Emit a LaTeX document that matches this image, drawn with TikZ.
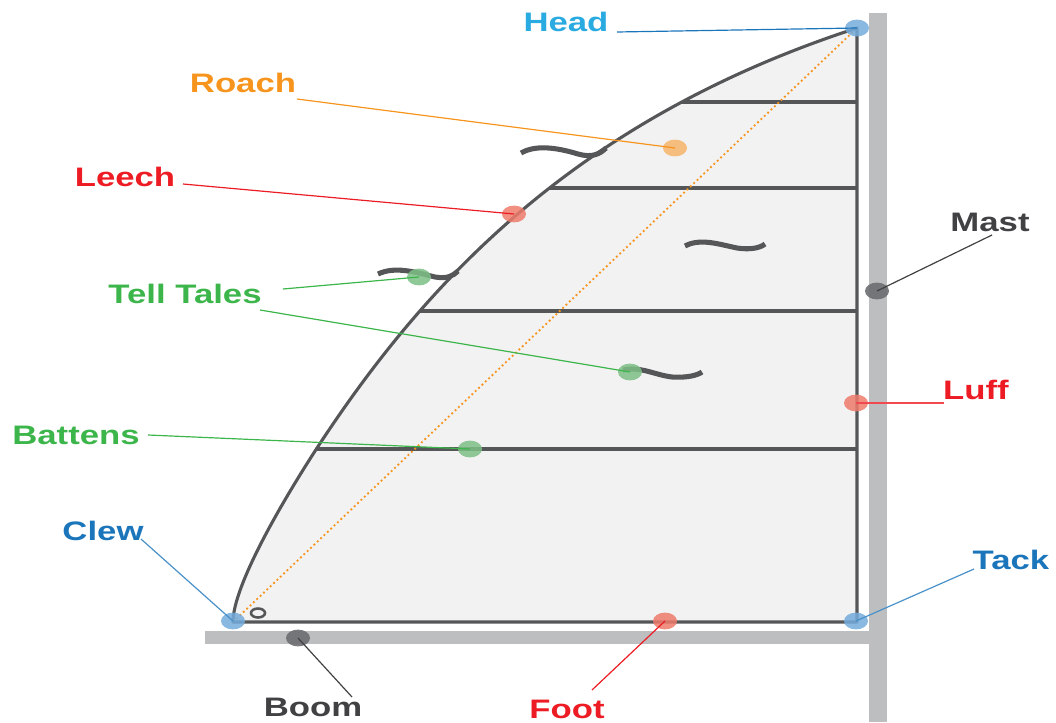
\documentclass[tikz,border=0pt]{standalone}
\usepackage{fontspec}
\usepackage{graphicx}
\setmainfont{Liberation Sans}
\usetikzlibrary{shapes.geometric}

\definecolor{spar}{HTML}{BCBEC0}
\definecolor{sailfill}{HTML}{F2F2F2}
\definecolor{sailline}{HTML}{555658}
\definecolor{cblue}{HTML}{1B75BB}
\definecolor{lblue}{HTML}{29AAE1}
\definecolor{cred}{HTML}{ED1C24}
\definecolor{corange}{HTML}{F7941D}
\definecolor{cgreen}{HTML}{3CB54A}
\definecolor{cdark}{HTML}{414042}
\definecolor{dblue}{HTML}{74ABDC}
\definecolor{dorange}{HTML}{F6B46A}
\definecolor{dred}{HTML}{EE7B6B}
\definecolor{dgreen}{HTML}{7DBF86}
\definecolor{dgray}{HTML}{6D6E71}

\tikzset{
  dot/.style={ellipse, draw=none, fill=#1, inner sep=0pt,
    minimum width=0.6cm, minimum height=0.42cm},
  lbl/.style={anchor=base, text=#1, font=\fontsize{19}{19}\selectfont\bfseries},
  lead/.style={draw=#1, line width=0.85pt},
  sailedge/.style={draw=sailline, line width=2.2pt},
  batten/.style={draw=sailline, line width=2.2pt},
  telltale/.style={draw=sailline, line width=3.6pt},
}
\newcommand{\wide}[1]{\scalebox{1.3}[1]{#1}}
% the leech, from clew up to head
\newcommand{\leechcurve}{(233,622) .. controls (233,585) and (284.5,498) .. (317,448)
  .. controls (428,278) and (580,118) .. (857,28)}

\begin{document}
\begin{tikzpicture}[x=0.025cm, y=-0.025cm]
\useasboundingbox (0,0) rectangle (1056,722);

% mast and boom
\fill[spar] (869,13) rectangle (887,722);
\fill[spar] (205,631) rectangle (869,644);

% corners of the sail
\coordinate (clew) at (233,622);
\coordinate (head) at (857,28);
\coordinate (tack) at (857,622);

% sail cloth
\fill[sailfill] \leechcurve -- (tack) -- cycle;

% battens, clipped to the sail
\begin{scope}
  \clip \leechcurve -- (tack) -- cycle;
  \foreach \yy in {102,188,311,449} {
    \draw[batten] (200,\yy) -- (857,\yy);
  }
\end{scope}

% chord from clew to head
\draw[corange, line width=1.3pt, dotted] (clew) -- (head);

% sail outline
\draw[sailedge, line join=round] \leechcurve -- (tack) -- cycle;

% clew ring
\draw[sailline, line width=1.8pt] (258,613) ellipse (7 and 4.5);

% tell tales
\draw[telltale] (521,153) .. controls (535,145) and (555,147) .. (578,154)
  .. controls (592,158) and (600,154) .. (606,148);
\draw[telltale] (685,246) .. controls (700,238) and (718,244) .. (737,248)
  .. controls (750,250) and (760,248) .. (765,244);
\draw[telltale] (378,274) .. controls (395,266) and (415,272) .. (435,277)
  .. controls (447,279) and (453,276) .. (458,271);
\draw[telltale] (623,370) .. controls (640,366) and (655,375) .. (672,377)
  .. controls (688,378) and (698,375) .. (702,372);

% markers
\node[dot=dblue, opacity=0.85] (mhead) at (857,28) {};
\node[dot=dorange, opacity=0.85] (mroach) at (675,148) {};
\node[dot=dred, opacity=0.85] (mleech) at (514,214) {};
\node[dot=dgreen, opacity=0.85] (mtt1) at (419,277) {};
\node[dot=dgreen, opacity=0.85] (mtt2) at (630,372) {};
\node[dot=dgreen, opacity=0.85] (mbatten) at (470,449) {};
\node[dot=dgray, opacity=0.9] (mmast) at (877,291) {};
\node[dot=dred, opacity=0.85] (mluff) at (856,403) {};
\node[dot=dblue, opacity=0.85] (mclew) at (233,621) {};
\node[dot=dblue, opacity=0.85] (mtack) at (856,621) {};
\node[dot=dred, opacity=0.85] (mfoot) at (665,621) {};
\node[dot=dgray, opacity=0.9] (mboom) at (298,638) {};

% labels
\node[lbl=lblue] (thead) at (566,32) {\wide{Head}};
\node[lbl=corange] (troach) at (243,93) {\wide{Roach}};
\node[lbl=cred] (tleech) at (125,186) {\wide{Leech}};
\node[lbl=cgreen] (ttt) at (185,303) {\wide{Tell Tales}};
\node[lbl=cgreen] (tbatten) at (76,444) {\wide{Battens}};
\node[lbl=cblue] (tclew) at (103,540) {\wide{Clew}};
\node[lbl=cdark] (tboom) at (313,716) {\wide{Boom}};
\node[lbl=cred] (tfoot) at (567,718) {\wide{Foot}};
\node[lbl=cblue] (ttack) at (1011,569) {\wide{Tack}};
\node[lbl=cred] (tluff) at (976,399) {\wide{Luff}};
\node[lbl=cdark] (tmast) at (990,231) {\wide{Mast}};

% leader ends beside the labels
\coordinate (lhead) at (617,32);
\coordinate (lroach) at (297,99);
\coordinate (lleech) at (183,184);
\coordinate (ltt1) at (283,289);
\coordinate (ltt2) at (260,310);
\coordinate (lbatten) at (148,435);
\coordinate (lclew) at (141,539);
\coordinate (lboom) at (352,697);
\coordinate (lfoot) at (592,690);
\coordinate (ltack) at (974,569);
\coordinate (lluff) at (944,403);
\coordinate (lmast) at (992,235);

% leaders
\draw[lead=cblue] (lhead) -- (mhead.center);
\draw[lead=corange] (lroach) -- (mroach.center);
\draw[lead=cred] (lleech) -- (mleech.center);
\draw[lead=cgreen] (ltt1) -- (mtt1.center);
\draw[lead=cgreen] (ltt2) -- (mtt2.center);
\draw[lead=cgreen] (lbatten) -- (mbatten.center);
\draw[lead=cblue!80!white] (lclew) -- (mclew.center);
\draw[lead=cdark] (lboom) -- (mboom.center);
\draw[lead=cred] (lfoot) -- (mfoot.center);
\draw[lead=cblue!80!white] (ltack) -- (mtack.center);
\draw[lead=cred!80!white] (lluff) -- (mluff.center);
\draw[lead=cdark] (lmast) -- (mmast.center);
\end{tikzpicture}
\end{document}
